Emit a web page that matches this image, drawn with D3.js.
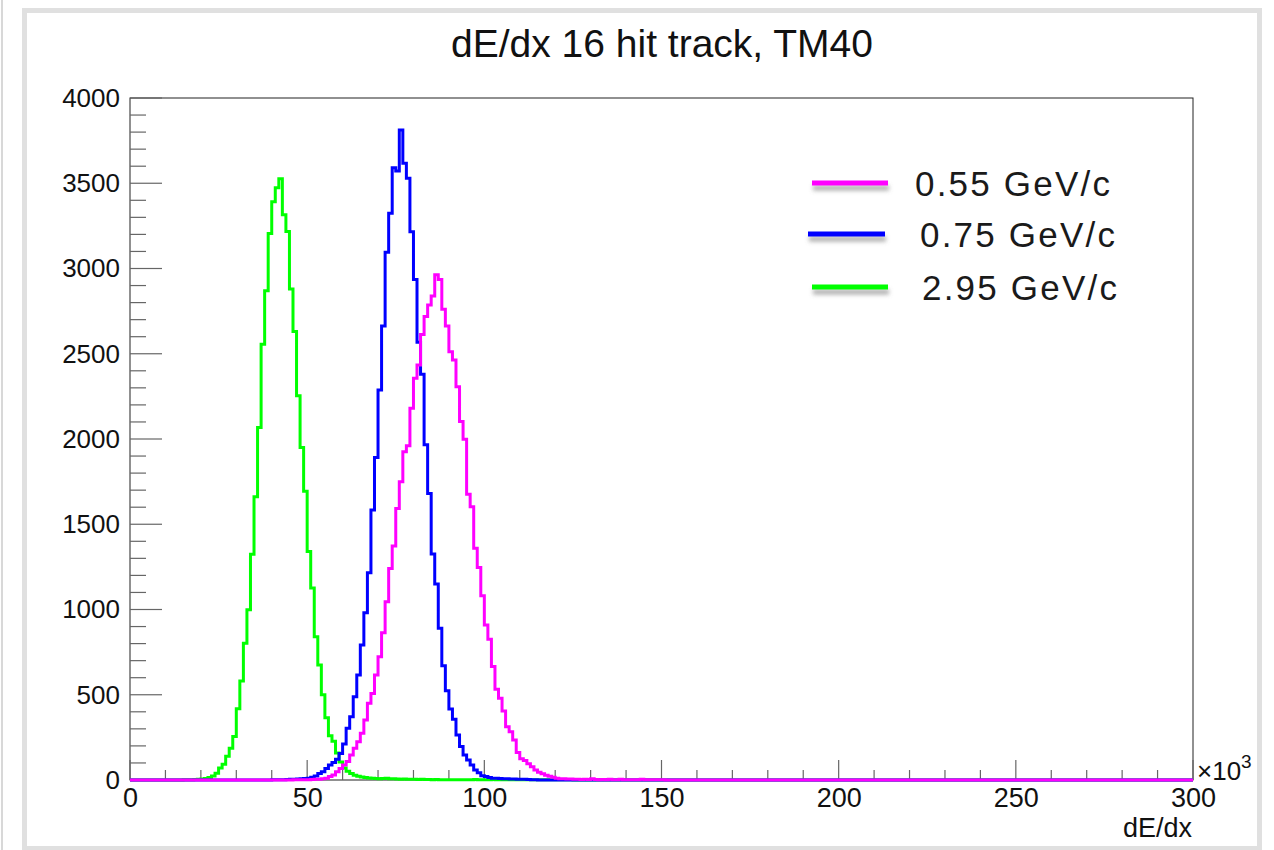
<!DOCTYPE html>
<html>
<head>
<meta charset="utf-8">
<script src="https://cdn.jsdelivr.net/npm/d3@7"></script>
<style>
  html, body { margin: 0; padding: 0; background: #fff; }
  svg { display: block; }
  text { font-family: "Liberation Sans", Arial, Helvetica, sans-serif; }
</style>
</head>
<body>
<svg id="chart" width="1274" height="850"></svg>
<script>
// dE/dx spectra, bins of width 1 (x10^3), range 0..300; empty bins are zero.
const nBins = 300;

// 2.95 GeV/c, first filled bin = 15
const greenStart = 15;
const greenCounts = [
  1, 1, 2, 3, 4, 6, 9, 14, 23, 40,
  70, 93, 140, 186, 255, 418, 581, 802, 999, 1324,
  1662, 2068, 2556, 2870, 3206, 3392, 3474, 3526, 3315, 3217,
  2880, 2630, 2254, 1950, 1694, 1340, 1126, 840, 674, 500,
  365, 260, 228, 158, 105, 70, 52, 38, 28, 22,
  17, 14, 12, 10, 9, 8, 9, 11, 8, 7,
  6, 5, 6, 4, 5, 4, 3, 4, 3, 3,
  2, 3, 2, 2, 2, 2, 1, 2, 2, 2,
  2, 2, 3, 2, 2, 2, 2, 3, 2, 2,
  2, 2, 2, 2, 2, 2, 2, 2, 2, 2,
  2, 1, 1, 1, 1, 1, 1, 1, 1, 1
];

// 0.75 GeV/c, first filled bin = 40
const blueStart = 40;
const blueCounts = [
  1, 1, 2, 2, 3, 4, 5, 6, 7, 9,
  11, 16, 24, 38, 49, 68, 88, 102, 121, 156,
  211, 303, 371, 489, 616, 792, 981, 1216, 1584, 1892,
  2287, 2663, 3095, 3324, 3591, 3572, 3812, 3617, 3529, 3216,
  2936, 2567, 2380, 1967, 1681, 1325, 1150, 890, 670, 524,
  416, 356, 264, 196, 147, 117, 88, 59, 43, 25,
  20, 14, 11, 10, 9, 8, 8, 6, 6, 5,
  5, 4, 3, 2, 1
];

// 0.55 GeV/c, first filled bin = 46
const magentaStart = 46;
const magentaCounts = [
  1, 1, 1, 2, 2, 3, 4, 5, 7, 10,
  20, 29, 49, 68, 88, 108, 147, 186, 225, 274,
  352, 450, 508, 616, 723, 864, 1046, 1241, 1372, 1593,
  1750, 1925, 1960, 2180, 2356, 2434, 2613, 2719, 2786, 2838,
  2964, 2935, 2761, 2663, 2512, 2463, 2307, 2102, 1998, 1676,
  1603, 1359, 1247, 1081, 909, 825, 665, 532, 479, 405,
  313, 283, 235, 162, 124, 114, 96, 78, 58, 46,
  36, 28, 22, 16, 11, 8, 7, 6, 6, 4,
  4, 3, 4, 3, 8, 3, 2, 3, 2, 5,
  2, 2, 5, 2, 2, 1, 2, 1, 5, 1,
  1, 1, 1, 1, 1
];

const seriesNames = ["0.55 GeV/c", "0.75 GeV/c", "2.95 GeV/c"];
const seriesColors = ["#ff00ff", "#0000ff", "#00ff00"];

const xTicks = [0, 50, 100, 150, 200, 250, 300];
const yTicks = [0, 500, 1000, 1500, 2000, 2500, 3000, 3500, 4000];

const titleText = "dE/dx 16 hit track, TM40";
const xTitle = "dE/dx";

// expand a sparse run of counts into a full histogram
function fullHist(start, counts) {
  const h = new Array(nBins).fill(0);
  counts.forEach((c, i) => { h[start + i] = c; });
  return h;
}

const svg = d3.select("#chart");
const W = 1274, H = 850;
const plot = { left: 130, right: 1193, top: 98, bottom: 780 };

svg.append("rect").attr("width", W).attr("height", H).attr("fill", "#fff");

// canvas frame
svg.append("line").attr("x1", 2).attr("x2", 2).attr("y1", 0).attr("y2", H)
  .attr("stroke", "#d8d8d8").attr("stroke-width", 2);
svg.append("rect").attr("x", 24.5).attr("y", 10.5).attr("width", 1235).attr("height", 838)
  .attr("fill", "none").attr("stroke", "#e0e0e0").attr("stroke-width", 5);

const x = d3.scaleLinear().domain([0, 300]).range([plot.left, plot.right]);
const y = d3.scaleLinear().domain([0, 4000]).range([plot.bottom, plot.top]);

// title
svg.append("text").attr("x", 662).attr("y", 57).attr("text-anchor", "middle")
  .attr("font-size", 39).attr("fill", "#111").text(titleText);

// plot frame
svg.append("rect").attr("x", plot.left).attr("y", plot.top)
  .attr("width", plot.right - plot.left).attr("height", plot.bottom - plot.top)
  .attr("fill", "none").attr("stroke", "#222").attr("stroke-width", 1);

// x axis ticks (inward)
const xMinor = d3.range(0, 301, 10);
svg.append("g").selectAll("line").data(xMinor).join("line")
  .attr("x1", d => x(d)).attr("x2", d => x(d))
  .attr("y1", plot.bottom).attr("y2", d => plot.bottom - (d % 50 === 0 ? 20 : 10))
  .attr("stroke", "#666").attr("stroke-width", 1.2);

const xAxis = d3.axisBottom(x).tickValues(xTicks).tickSize(0).tickPadding(8).tickFormat(d3.format("d"));
const gx = svg.append("g").attr("transform", `translate(0,${plot.bottom})`).call(xAxis);
gx.select(".domain").remove();
gx.selectAll("text").attr("font-size", 27).attr("fill", "#111")
  .attr("font-family", "'Liberation Sans', Arial, sans-serif");

// y axis ticks (inward)
const yMinor = d3.range(0, 4001, 100);
svg.append("g").selectAll("line").data(yMinor).join("line")
  .attr("x1", plot.left).attr("x2", d => plot.left + (d % 500 === 0 ? 32 : 16))
  .attr("y1", d => y(d)).attr("y2", d => y(d))
  .attr("stroke", "#666").attr("stroke-width", 1.2);

const yAxis = d3.axisLeft(y).tickValues(yTicks).tickSize(0).tickPadding(10).tickFormat(d3.format("d"));
const gy = svg.append("g").attr("transform", `translate(${plot.left},0)`).call(yAxis);
gy.select(".domain").remove();
gy.selectAll("text").attr("font-size", 26).attr("fill", "#111")
  .attr("font-family", "'Liberation Sans', Arial, sans-serif");

// exponent and axis title
const ex = svg.append("text").attr("x", 1197).attr("y", 780).attr("font-size", 26).attr("fill", "#111");
ex.append("tspan").text("\u00d710");
ex.append("tspan").attr("dy", -12).attr("font-size", 19).text("3");
svg.append("text").attr("x", 1192).attr("y", 837).attr("text-anchor", "end")
  .attr("font-size", 27).attr("fill", "#111").text(xTitle);

// histograms as step outlines
const hists = [
  fullHist(greenStart, greenCounts),
  fullHist(blueStart, blueCounts),
  fullHist(magentaStart, magentaCounts)
];
const histColors = [seriesColors[2], seriesColors[1], seriesColors[0]];

const step = d3.line().x(d => x(d[0])).y(d => y(d[1])).curve(d3.curveStepAfter);
hists.forEach((h, k) => {
  const pts = h.map((c, i) => [i, c]);
  pts.push([nBins, h[nBins - 1]]);
  svg.append("path").attr("d", step(pts))
    .attr("fill", "none").attr("stroke", histColors[k]).attr("stroke-width", 3)
    .attr("stroke-linejoin", "miter");
});

// legend: soft shadow drawn under each sample line
const defs = svg.append("defs");
defs.append("filter").attr("id", "soft").attr("filterUnits", "userSpaceOnUse")
  .attr("x", 780).attr("y", 150).attr("width", 140).attr("height", 170)
  .append("feGaussianBlur").attr("stdDeviation", 2.2);

const legendRows = [
  { x1: 812, x2: 888, y: 183, tx: 915 },
  { x1: 808, x2: 885, y: 234, tx: 920 },
  { x1: 812, x2: 888, y: 287, tx: 922 }
];
legendRows.forEach((r, i) => {
  svg.append("line").attr("x1", r.x1 + 1).attr("x2", r.x2 + 1).attr("y1", r.y + 5).attr("y2", r.y + 5)
    .attr("stroke", "#777").attr("stroke-opacity", 0.6).attr("stroke-width", 5)
    .attr("filter", "url(#soft)");
  svg.append("line").attr("x1", r.x1).attr("x2", r.x2).attr("y1", r.y).attr("y2", r.y)
    .attr("stroke", seriesColors[i]).attr("stroke-width", 5);
  svg.append("text").attr("x", r.tx).attr("y", r.y + 13).attr("font-size", 35)
    .attr("letter-spacing", 2.2).attr("fill", "#1a1a1a").text(seriesNames[i]);
});
</script>
</body>
</html>
